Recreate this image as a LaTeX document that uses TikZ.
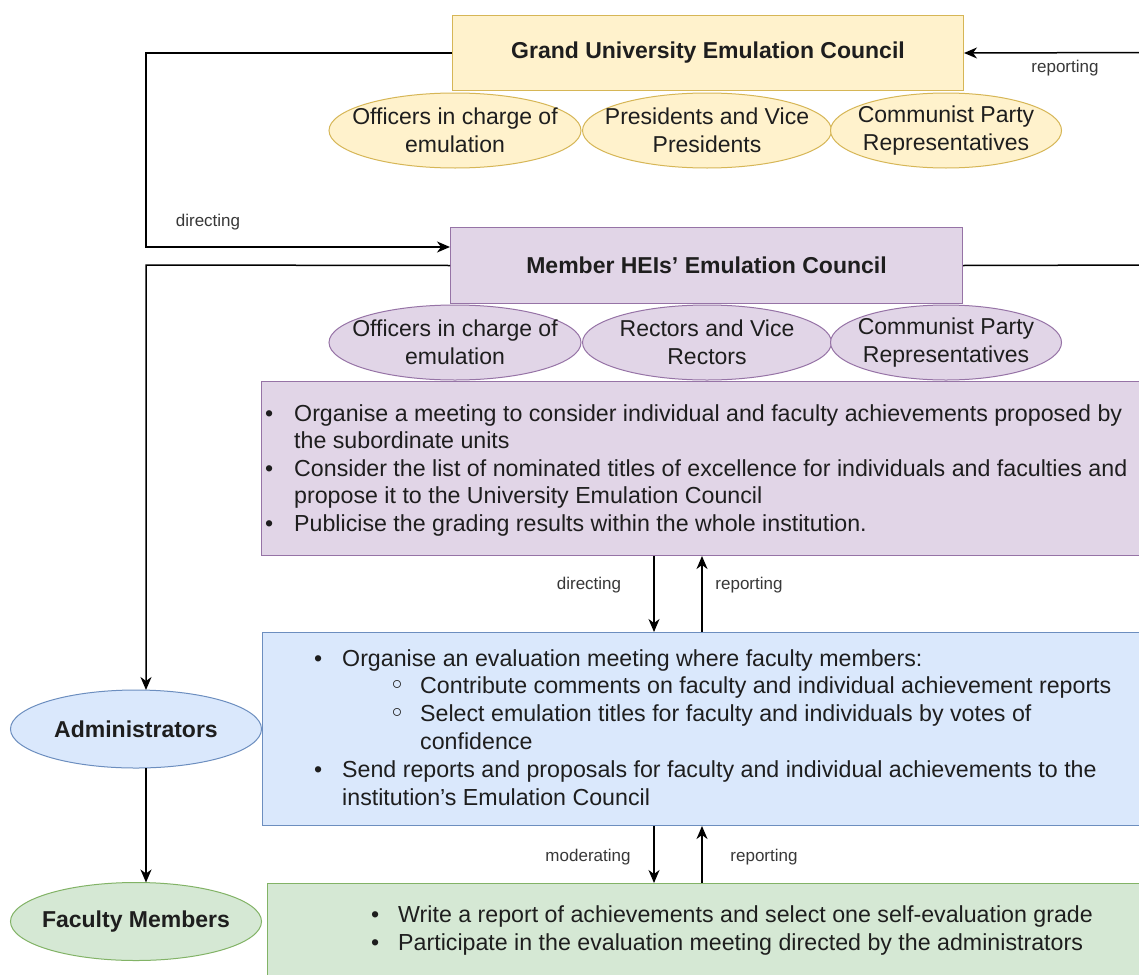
\documentclass[tikz,border=0pt]{standalone}
\usepackage{fontspec}
\setmainfont{Liberation Sans}
\newfontfamily\symf{DejaVu Sans}
\usetikzlibrary{shapes.geometric,arrows.meta}
\definecolor{yfill}{HTML}{FFF2CC}\definecolor{ydraw}{HTML}{D6B656}
\definecolor{pfill}{HTML}{E1D5E7}\definecolor{pdraw}{HTML}{9673A6}
\definecolor{bfill}{HTML}{DAE8FC}\definecolor{bdraw}{HTML}{6C8EBF}
\definecolor{gfill}{HTML}{D5E8D4}\definecolor{gdraw}{HTML}{82B366}
\definecolor{ink}{HTML}{1E1E1E}
\begin{document}
\begin{tikzpicture}[x=1pt,y=-1pt,
  boxbase/.style={rectangle, line width=1pt, anchor=north west, inner sep=0pt, text=ink, font=\fontsize{23}{27.6}\selectfont\bfseries},
  ybox/.style={boxbase, draw=ydraw, fill=yfill},
  pbox/.style={boxbase, draw=pdraw, fill=pfill},
  bbox/.style={boxbase, draw=bdraw, fill=bfill},
  gbox/.style={boxbase, draw=gdraw, fill=gfill},
  ellbase/.style={ellipse, line width=1pt, inner sep=0pt},
  yell/.style={ellbase, draw=ydraw, fill=yfill},
  pell/.style={ellbase, draw=pdraw, fill=pfill},
  bell/.style={ellbase, draw=bdraw, fill=bfill},
  gell/.style={ellbase, draw=gdraw, fill=gfill},
  etext/.style={inner sep=0pt, align=center, text=ink, font=\fontsize{23}{28}\selectfont},
  ebold/.style={etext, font=\fontsize{23}{28}\selectfont\bfseries},
  txt/.style={inner sep=0pt, anchor=base west, text=ink, font=\fontsize{23.2}{28}\selectfont},
  subb/.style={inner sep=0pt, anchor=base west, text=ink, font=\symf\fontsize{27}{28}\selectfont},
  lbl/.style={inner sep=0pt, font=\fontsize{17}{20}\selectfont, text=black!78},
  ln/.style={line width=1.5pt, black},
  arr/.style={ln, -{Stealth[length=13pt,width=11pt,inset=4pt]}}
]
\fill[white] (0,0) rectangle (1139,974);
\clip (0,0) rectangle (1139,974);

% top council
\node[ybox, minimum width=511pt, minimum height=75pt] (grand) at (452,15) {Grand University Emulation Council};
\node[yell, minimum width=252pt, minimum height=75pt] (ge1) at (455,130.5) {};
\node[yell, minimum width=249pt, minimum height=75pt] (ge2) at (707,130.5) {};
\node[yell, minimum width=231pt, minimum height=75pt] (ge3) at (946,130.5) {};
\node[etext] (ge1t) at (ge1) {Officers in charge of\\emulation};
\node[etext] (ge2t) at (ge2) {Presidents and Vice\\Presidents};
\node[etext] (ge3t) at (ge3) {Communist Party\\Representatives};

% member council
\node[pbox, minimum width=512pt, minimum height=76pt] (member) at (450,227) {Member HEIs' Emulation Council};
\node[pell, minimum width=252pt, minimum height=75pt] (me1) at (455,342.5) {};
\node[pell, minimum width=249pt, minimum height=75pt] (me2) at (707,342.5) {};
\node[pell, minimum width=231pt, minimum height=75pt] (me3) at (946,342.5) {};
\node[etext] (me1t) at (me1) {Officers in charge of\\emulation};
\node[etext] (me2t) at (me2) {Rectors and Vice\\Rectors};
\node[etext] (me3t) at (me3) {Communist Party\\Representatives};

% task boxes
\node[pbox, minimum width=900pt, minimum height=174pt] (ptask) at (261,381) {};
\node[bbox, minimum width=900pt, minimum height=193pt] (btask) at (262,632) {};
\node[gbox, minimum width=900pt, minimum height=110pt] (gtask) at (267,883) {};

% actors
\node[bell, minimum width=251pt, minimum height=78pt] (admin) at (136,729) {};
\node[ebold] (admint) at (admin) {Administrators};
\node[gell, minimum width=251pt, minimum height=78pt] (fac) at (136,921.5) {};
\node[ebold] (fact) at (fac) {Faculty Members};

% purple text
\node[txt] (pb1) at (265,421) {•};
\node[txt] (pt1) at (294,421) {Organise a meeting to consider individual and faculty achievements proposed by};
\node[txt] (pt2) at (294,448.5) {the subordinate units};
\node[txt] (pb2) at (265,476) {•};
\node[txt] (pt3) at (294,476) {Consider the list of nominated titles of excellence for individuals and faculties and};
\node[txt] (pt4) at (294,503.5) {propose it to the University Emulation Council};
\node[txt] (pb3) at (265,531) {•};
\node[txt] (pt5) at (294,531) {Publicise the grading results within the whole institution.};

% blue text
\node[txt] (bb1) at (314,666) {•};
\node[txt] (bt1) at (342,666) {Organise an evaluation meeting where faculty members:};
\node[subb] (bs1) at (389,694.5) {◦};
\node[txt] (bt2) at (420,693.9) {Contribute comments on faculty and individual achievement reports};
\node[subb] (bs2) at (389,722.4) {◦};
\node[txt] (bt3) at (420,721.8) {Select emulation titles for faculty and individuals by votes of};
\node[txt] (bt4) at (420,749.7) {confidence};
\node[txt] (bb2) at (314,777.6) {•};
\node[txt] (bt5) at (342,777.6) {Send reports and proposals for faculty and individual achievements to the};
\node[txt] (bt6) at (342,805.5) {institution's Emulation Council};

% green text
\node[txt] (gb1) at (371,922) {•};
\node[txt] (gt1) at (398,922) {Write a report of achievements and select one self-evaluation grade};
\node[txt] (gb2) at (371,950) {•};
\node[txt] (gt2) at (398,950) {Participate in the evaluation meeting directed by the administrators};

% connector coordinates
\coordinate (cA) at (146,247);
\coordinate (mIn) at (450,247);
\coordinate (cB) at (146,265);
\coordinate (adminTop) at (146,690);
\coordinate (adminBot) at (146,768);
\coordinate (facTop) at (146,882.5);
\coordinate (rEdgeTop) at (1150,52.5);
\coordinate (rEdgeMid) at (1150,265);

\draw[arr] (grand.west) -| (cA) -- (mIn);
\draw[arr] (member.west) -- (cB) -- (adminTop);
\draw[ln] (member.east) -- (rEdgeMid);
\draw[arr] (rEdgeTop) -- (grand.east);
\draw[arr] (adminBot) -- (facTop);

\draw[arr] ([xshift=393pt]ptask.south west) -- ([xshift=392pt]btask.north west);
\draw[arr] ([xshift=440pt]btask.north west) -- ([xshift=441pt]ptask.south west);
\draw[arr] ([xshift=392pt]btask.south west) -- ([xshift=387pt]gtask.north west);
\draw[arr] ([xshift=435pt]gtask.north west) -- ([xshift=440pt]btask.south west);

% labels
\node[lbl] (l1) at (1065,68) {reporting};
\node[lbl] (l2) at (208,222) {directing};
\node[lbl] (l3) at (589,585) {directing};
\node[lbl] (l4) at (749,585) {reporting};
\node[lbl] (l5) at (588,857) {moderating};
\node[lbl] (l6) at (764,857) {reporting};
\end{tikzpicture}
\end{document}
